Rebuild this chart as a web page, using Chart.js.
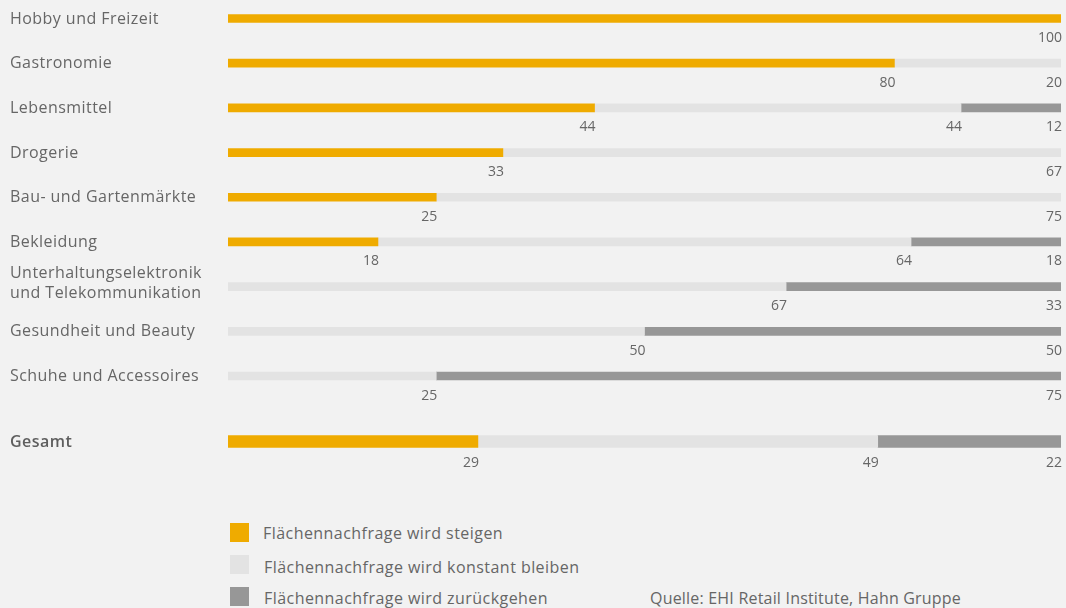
<!DOCTYPE html>
<html>
<head>
<meta charset="utf-8">
<script src="https://cdn.jsdelivr.net/npm/chart.js@4.4.1/dist/chart.umd.min.js"></script>
<style>
  html, body { margin: 0; padding: 0; background: #f2f2f2; width: 1066px; height: 608px; overflow: hidden; }
  #wrap { position: absolute; left: 0; top: 0; width: 1066px; height: 470px; }
  .leg { position: absolute; font-family: "Open Sans", sans-serif; font-size: 16px; letter-spacing: 0.45px; color: #666; white-space: nowrap; line-height: 20px; }
  .sq { position: absolute; width: 19px; height: 19px; }
</style>
</head>
<body>
<div id="wrap"><canvas id="c" width="1066" height="470"></canvas></div>
<div class="sq" style="left:230px;top:523px;background:#efab00"></div>
<div class="leg" style="left:263px;top:523px">Flächennachfrage wird steigen</div>
<div class="sq" style="left:230px;top:555px;background:#e3e3e3"></div>
<div class="leg" style="left:264px;top:557px">Flächennachfrage wird konstant bleiben</div>
<div class="sq" style="left:230px;top:587px;background:#979797"></div>
<div class="leg" style="left:264px;top:588px">Flächennachfrage wird zurückgehen</div>
<div class="leg" style="left:650px;top:588px;letter-spacing:0.2px">Quelle: EHI Retail Institute, Hahn Gruppe</div>
<script>
const categories = [
  "Hobby und Freizeit",
  "Gastronomie",
  "Lebensmittel",
  "Drogerie",
  "Bau- und Gartenmärkte",
  "Bekleidung",
  ["Unterhaltungselektronik", "und Telekommunikation"],
  "Gesundheit und Beauty",
  "Schuhe und Accessoires",
  "Gesamt"
];
const seriesNames = [
  "Flächennachfrage wird steigen",
  "Flächennachfrage wird konstant bleiben",
  "Flächennachfrage wird zurückgehen"
];
// values for the nine branches (Gesamt separately below)
const steigen   = [100, 80, 44, 33, 25, 18, 0, 0, 0];
const konstant  = [0, 20, 44, 67, 75, 64, 67, 50, 25];
const zurueck   = [0, 0, 12, 0, 0, 18, 33, 50, 75];
// Gesamt bar (segment lengths as drawn) and its printed labels
const gesamtValues = [30, 48, 22];
const gesamtLabels = ["29", "49", "22"];

const colors = ["#efab00", "#e3e3e3", "#979797"];
const GESAMT_GAP = 1.466;
const gi = categories.length - 1;
const rowPos = categories.map((c, i) => i < gi ? i : i - 1 + GESAMT_GAP);

function rows(vals) {
  return vals.map((v, i) => ({ x: v, y: rowPos[i], label: String(v) })).filter(d => d.x > 0);
}

const datasets = [];
[steigen, konstant, zurueck].forEach((vals, s) => {
  datasets.push({ label: seriesNames[s], data: rows(vals), backgroundColor: colors[s], barThickness: 8, borderWidth: 0, grouped: false });
});
gesamtValues.forEach((v, s) => {
  datasets.push({ label: seriesNames[s], data: [{ x: v, y: rowPos[gi], label: gesamtLabels[s] }], backgroundColor: colors[s], barThickness: 12, borderWidth: 0, grouped: false });
});

const textPlugin = {
  id: 'textPlugin',
  afterDatasetsDraw(chart) {
    const ctx = chart.ctx;
    const ys = chart.scales.y;
    ctx.save();
    // value labels under the segment ends
    ctx.font = '14px "Open Sans", sans-serif';
    ctx.fillStyle = '#666';
    ctx.textAlign = 'right';
    ctx.textBaseline = 'middle';
    chart.data.datasets.forEach((ds, di) => {
      const meta = chart.getDatasetMeta(di);
      meta.data.forEach((el, i) => {
        const d = ds.data[i];
        ctx.fillText(d.label, el.x + 1, el.y + ds.barThickness / 2 + 15.5);
      });
    });
    // category labels
    ctx.textAlign = 'left';
    if ('letterSpacing' in ctx) ctx.letterSpacing = '0.45px';
    categories.forEach((c, i) => {
      const y = ys.getPixelForValue(rowPos[i]);
      ctx.font = (i === gi ? '600 ' : '') + '16px "Open Sans", sans-serif';
      ctx.fillStyle = i === gi ? '#5e5e5e' : '#666';
      if (Array.isArray(c)) {
        c.forEach((line, k) => ctx.fillText(line, 10, y - 13 + k * 20));
      } else {
        ctx.fillText(c, 10, y + 0.5);
      }
    });
    ctx.restore();
  }
};

new Chart(document.getElementById('c'), {
  type: 'bar',
  data: { datasets },
  options: {
    indexAxis: 'y',
    responsive: false,
    animation: false,
    devicePixelRatio: 1,
    layout: { padding: { left: 228, right: 5, top: 0, bottom: 0 } },
    plugins: { legend: { display: false }, tooltip: { enabled: false } },
    scales: {
      x: { type: 'linear', stacked: true, min: 0, max: 100, display: false },
      y: {
        type: 'linear',
        stacked: true,
        offset: false,
        reverse: true,
        min: -0.414,
        max: 10.103,
        display: false
      }
    }
  },
  plugins: [textPlugin]
});
</script>
</body>
</html>
